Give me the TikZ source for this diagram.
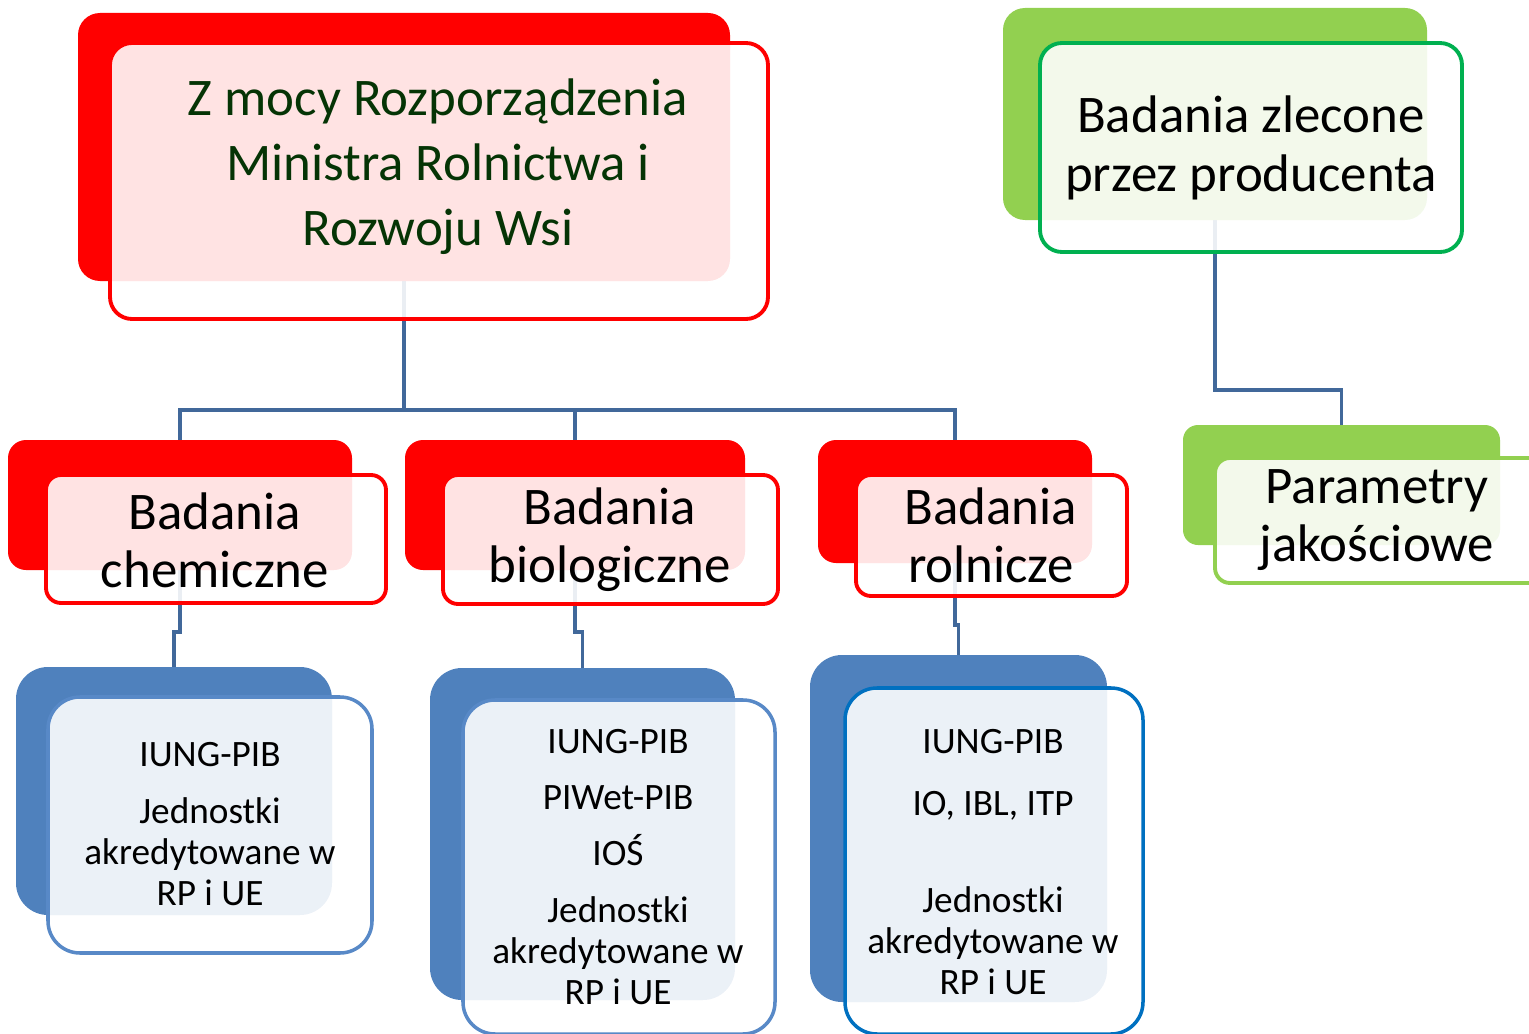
\documentclass[tikz,border=0pt]{standalone}
\usepackage{fontspec}
\setmainfont{Carlito}
\usetikzlibrary{backgrounds}
\definecolor{czerwony}{RGB}{255,0,0}
\definecolor{zielony}{RGB}{146,208,80}
\definecolor{zielonyr}{RGB}{0,176,80}
\definecolor{niebieski}{RGB}{79,129,189}
\definecolor{niebieskir}{RGB}{88,137,199}
\definecolor{niebieskid}{RGB}{0,112,192}
\definecolor{linia}{RGB}{65,104,154}
\definecolor{ciemnyziel}{RGB}{5,52,5}
\tikzset{
  wh/.style 2 args={minimum width=#1*0.02cm, minimum height=#2*0.02cm},
  tyl/.style={fill=#1, rounded corners=0.44cm, inner sep=0pt},
  przod/.style={draw=#1, line width=2.2pt, fill=white, fill opacity=0.89,
    text opacity=1, rounded corners=0.44cm, inner sep=0pt},
  napis/.style={align=center, inner sep=0pt},
  duzy/.style={font=\fontsize{30.1}{#1}\selectfont},
  maly/.style={font=\fontsize{21.2}{23.3}\selectfont},
  polacz/.style={draw=linia, line width=2.2pt}
}
\begin{document}
\begin{tikzpicture}[x=0.02cm, y=-0.02cm]
\useasboundingbox (0,0) rectangle (1529,1034);
\clip (0,0) rectangle (1529,1034);
% poziom 1
\node[tyl=czerwony, wh={652}{268}] (rozpbk) at (404,147) {};
\node[przod=czerwony, wh={658}{276}] (rozp) at (439,181) {};
\node[napis, duzy=36.9pt, text=ciemnyziel] (rozpt) at (438,167)
  {Z mocy Rozporządzenia\\ Ministra Rolnictwa i\\ Rozwoju Wsi};
\node[tyl=zielony, wh={424}{212}] (zlecbk) at (1215,114) {};
\node[przod=zielonyr, wh={422}{209}] (zlec) at (1251,147.5) {};
\node[napis, duzy=33.5pt] (zlect) at (1251,148) {Badania zlecone\\ przez producenta};
% poziom 2
\node[tyl=czerwony, wh={344}{130}, rounded corners=0.36cm] (chembk) at (180,505) {};
\node[przod=czerwony, wh={340}{128}, rounded corners=0.3cm] (chem) at (216,539) {};
\node[napis, duzy=32.9pt] (chemt) at (215,540) {Badania\\ chemiczne};
\node[tyl=czerwony, wh={340}{130}, rounded corners=0.36cm] (biolbk) at (575,505) {};
\node[przod=czerwony, wh={335}{129}, rounded corners=0.3cm] (biol) at (610.5,539.5) {};
\node[napis, duzy=32.9pt] (biolt) at (610,540) {Badania\\ biologiczne};
\node[tyl=czerwony, wh={274}{123}, rounded corners=0.36cm] (rolnbk) at (955,501.5) {};
\node[przod=czerwony, wh={271}{121}, rounded corners=0.3cm] (roln) at (991.5,535.5) {};
\node[napis, duzy=32.9pt] (rolnt) at (991,535) {Badania\\ rolnicze};
\node[tyl=zielony, wh={317}{120}, rounded corners=0.3cm] (parambk) at (1341.5,485) {};
\node[przod=zielony, wh={335}{125}, rounded corners=0.3cm] (param) at (1382.5,520.5) {};
\node[napis, duzy=32.9pt] (paramt) at (1377,520) {Parametry\\ jakościowe};
% poziom 3
\node[tyl=niebieski, wh={316}{248}, rounded corners=0.64cm] (chemjbk) at (174,791) {};
\node[przod=niebieskir, wh={324}{256}, rounded corners=0.64cm, line width=2pt] (chemj) at (210,825) {};
\node[napis, maly] (chemjt) at (210,824)
  {IUNG-PIB\\[9pt] Jednostki\\ akredytowane w\\ RP i UE};
\node[tyl=niebieski, wh={305}{332}, rounded corners=0.64cm] (bioljbk) at (582.5,834) {};
\node[przod=niebieskir, wh={312}{334}, rounded corners=0.64cm, line width=2pt] (biolj) at (619,867) {};
\node[napis, maly] (bioljt) at (618,867)
  {IUNG-PIB\\[8.5pt] PIWet-PIB\\[9pt] IOŚ\\[9pt] Jednostki\\ akredytowane w\\ RP i UE};
\node[tyl=niebieski, wh={297}{347}, rounded corners=0.64cm] (rolnjbk) at (958.5,828.5) {};
\node[przod=niebieskid, wh={298}{346}, rounded corners=0.64cm, line width=2pt] (rolnj) at (994,861) {};
\node[napis, maly] (rolnjt) at (993,862)
  {IUNG-PIB\\[11.9pt] IO, IBL, ITP\\[32.3pt] Jednostki\\ akredytowane w\\ RP i UE};
\coordinate (szyna) at (404,410);
\begin{pgfonlayer}{background}
\draw[polacz] (rozpbk.south) -- (szyna);
\foreach \n in {chembk,biolbk,rolnbk}
  \draw[polacz] (szyna) -| (\n.north);
\draw[polacz] (zlecbk.south) -- ++(0,170) -| (parambk.north);
\draw[polacz] (chembk.south) -- ++(0,62) -| (chemjbk.north);
\draw[polacz] (biolbk.south) -- ++(0,62) -| (bioljbk.north);
\draw[polacz] (rolnbk.south) -- ++(0,62) -| (rolnjbk.north);
\end{pgfonlayer}
\end{tikzpicture}
\end{document}
